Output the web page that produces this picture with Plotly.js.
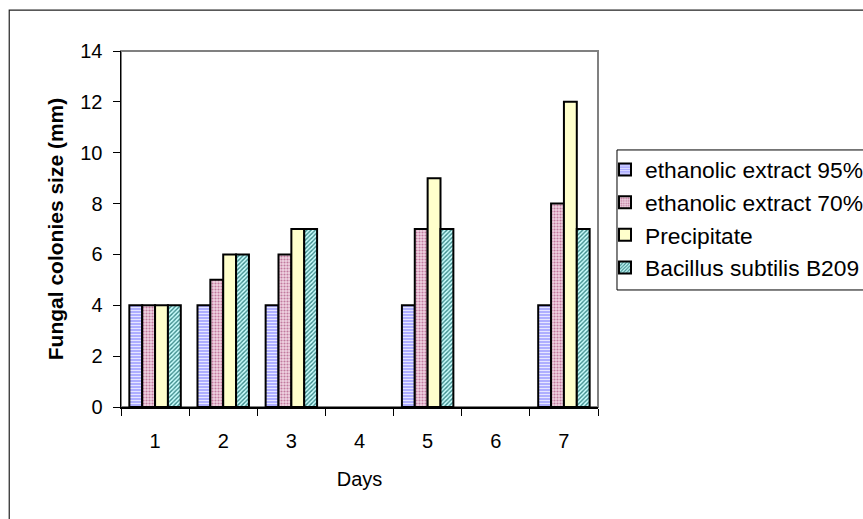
<!DOCTYPE html>
<html>
<head>
<meta charset="utf-8">
<script src="https://cdn.plot.ly/plotly-3.0.1.min.js"></script>
<style>html,body{margin:0;padding:0;background:#fff;}#chart{width:863px;height:519px;}</style>
</head>
<body>
<div id="chart"></div>
<script>
const days = ["1", "2", "3", "4", "5", "6", "7"];
const seriesNames = ["ethanolic extract 95%", "ethanolic extract 70%", "Precipitate", "Bacillus subtilis B209"];
const ethanol95 = [4, 4, 4, null, 4, null, 4];
const ethanol70 = [4, 5, 6, null, 7, null, 8];
const precipitate = [4, 6, 7, null, 9, null, 12];
const bacillus = [4, 6, 7, null, 7, null, 7];
const yTicks = [0, 2, 4, 6, 8, 10, 12, 14];

const FONT = "Liberation Sans, Arial, sans-serif";
const line = {color: "#000000", width: 2};

const traces = [
  {type: "bar", name: seriesNames[0], x: days, y: ethanol95,
   marker: {color: "#9999ff", line: line, pattern: {shape: "-", bgcolor: "#a3a3ff", fgcolor: "#e6e6ff", size: 3, solidity: 0.45}}},
  {type: "bar", name: seriesNames[1], x: days, y: ethanol70,
   marker: {color: "#e0b8cc", line: line, pattern: {shape: ".", bgcolor: "#f0d4e2", fgcolor: "#c27a9e", size: 3, solidity: 0.4}}},
  {type: "bar", name: seriesNames[2], x: days, y: precipitate,
   marker: {color: "#ffffcc", line: line}},
  {type: "bar", name: seriesNames[3], x: days, y: bacillus,
   marker: {color: "#99cccc", line: line, pattern: {shape: "/", bgcolor: "#ccffff", fgcolor: "#3d8a8a", size: 3, solidity: 0.45}}}
];

const layout = {
  width: 863, height: 519,
  margin: {l: 121, r: 265, t: 51, b: 112, autoexpand: false},
  paper_bgcolor: "#ffffff", plot_bgcolor: "#ffffff",
  font: {family: FONT, size: 20, color: "#000000"},
  barmode: "group", bargap: 0.245, bargroupgap: 0,
  showlegend: true,
  legend: {x: 1.0147, xanchor: "left", y: 0.727, yanchor: "top",
           bgcolor: "rgba(0,0,0,0)", borderwidth: 0,
           font: {family: FONT, size: 22.8, color: "#000000"}, traceorder: "normal"},
  xaxis: {type: "category", categoryarray: days, tickson: "boundaries",
          ticks: "outside", ticklen: 7, tickcolor: "#000000", tickwidth: 1,
          showline: true, linecolor: "#000000", linewidth: 1.5, showgrid: false, zeroline: false,
          ticklabelstandoff: 15, tickfont: {family: FONT, size: 20},
          title: {text: "Days", font: {family: FONT, size: 20}, standoff: 21}},
  yaxis: {range: [0, 14], tickvals: yTicks, ticks: "outside", ticklen: 7, tickcolor: "#000000", tickwidth: 1,
          showline: true, linecolor: "#000000", linewidth: 1.5, showgrid: false, zeroline: false,
          ticklabelstandoff: 6, tickfont: {family: FONT, size: 20},
          title: {text: "<b>Fungal colonies size (mm)</b>", font: {family: FONT, size: 21}, standoff: 11}},
  shapes: [
    {type: "rect", xref: "paper", yref: "paper", x0: 0, x1: 1, y0: 0, y1: 1,
     line: {color: "#808080", width: 2}, layer: "below"},
    {type: "rect", xref: "paper", yref: "paper", x0: 1.0398, x1: 1.6, y0: 0.3287, y1: 0.722,
     line: {color: "#000000", width: 1}, layer: "below"},
    {type: "rect", xref: "paper", yref: "paper", x0: -0.2343, x1: 1.6, y0: -0.35, y1: 1.115,
     line: {color: "#222222", width: 1.2}, layer: "below"}
  ]
};

Plotly.newPlot("chart", traces, layout, {staticPlot: true, displayModeBar: false});
</script>
</body>
</html>
